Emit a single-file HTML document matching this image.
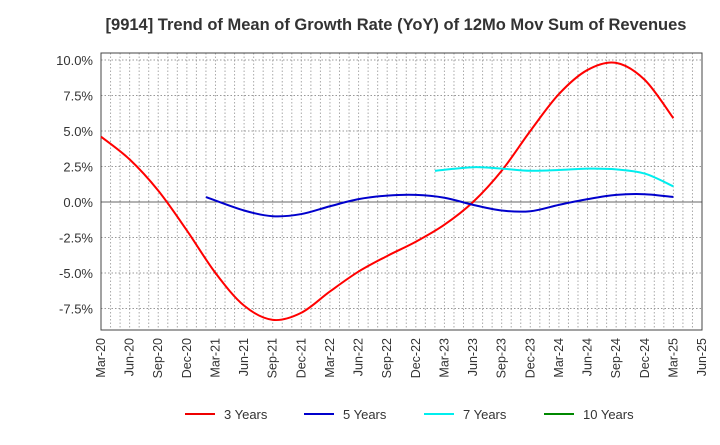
<!DOCTYPE html>
<html><head><meta charset="utf-8"><style>
body{margin:0;background:#fff;font-family:"Liberation Sans",sans-serif}
</style></head><body>
<svg id="c" width="720" height="440" xmlns="http://www.w3.org/2000/svg">
<text x="396" y="30" text-anchor="middle" font-size="16.5" font-weight="bold" fill="#333">[9914]  Trend of Mean of Growth Rate (YoY) of 12Mo Mov Sum of Revenues</text>
<g id="grid"></g><g id="axes"></g><g id="series"></g><g id="legend"></g>
</svg>
<script>
const xLabels=["Mar-20","Jun-20","Sep-20","Dec-20","Mar-21","Jun-21","Sep-21","Dec-21","Mar-22","Jun-22","Sep-22","Dec-22","Mar-23","Jun-23","Sep-23","Dec-23","Mar-24","Jun-24","Sep-24","Dec-24","Mar-25","Jun-25"];
const yTicks=[10,7.5,5,2.5,0,-2.5,-5,-7.5];
const m3=[0,3,6,9,12,15,18,21,24,27,30,33,36,39,42,45,48,51,54,57,60];
const v3=[4.6,3.0,0.8,-2.0,-5.0,-7.3,-8.3,-7.8,-6.3,-4.9,-3.8,-2.8,-1.6,0.0,2.2,5.0,7.6,9.3,9.8,8.6,5.9];
const m5=[11,15,18,21,24,27,30,33,36,39,42,45,48,51,54,57,60];
const v5=[0.35,-0.6,-1.0,-0.85,-0.3,0.2,0.45,0.5,0.3,-0.2,-0.6,-0.65,-0.2,0.2,0.5,0.55,0.35];
const m7=[35,39,42,45,48,51,54,57,60];
const v7=[2.2,2.45,2.35,2.2,2.25,2.35,2.3,2.0,1.1];
const L=101,R=702,T=53,B=330;
const X=m=>L+m*(R-L)/63;
const Y=v=>202-v*(142/10);
const NS="http://www.w3.org/2000/svg";
function mk(tag,attrs,parent,text){const e=document.createElementNS(NS,tag);for(const k in attrs)e.setAttribute(k,attrs[k]);if(text!==undefined)e.textContent=text;parent.appendChild(e);return e;}
const g=document.getElementById('grid'),a=document.getElementById('axes'),s=document.getElementById('series'),lg=document.getElementById('legend');
for(let m=1;m<63;m++){const l=mk('line',{x1:X(m),x2:X(m),y1:T,y2:B,stroke:'#aaa','stroke-dasharray':'1.5,2','stroke-width':1},g);

}
yTicks.forEach(v=>{const l=mk('line',{x1:L,x2:R,y1:Y(v),y2:Y(v),stroke:v===0?'#666':'#999','stroke-dasharray':v===0?'none':'1.5,2','stroke-width':1},g);


const t=mk('text',{x:L-8,y:Y(v)+5,'text-anchor':'end','font-size':13,fill:'#333'},a,v.toFixed(1)+'%');

});
const fr=mk('rect',{x:L,y:T,width:R-L,height:B-T,fill:'none',stroke:'#444','stroke-width':1},a);


xLabels.forEach((lab,i)=>{const x=X(i*3);const t=mk('text',{transform:`translate(${x+4},${B+8}) rotate(-90)`,'text-anchor':'end','font-size':12.5,fill:'#333'},a,lab);

});
function path(ms,vs){const p=ms.map((m,i)=>[X(m),Y(vs[i])]);let d=`M${p[0][0]},${p[0][1]}`;
for(let i=0;i<p.length-1;i++){const p0=p[i-1]||p[i],p1=p[i],p2=p[i+1],p3=p[i+2]||p2;
d+=` C${p1[0]+(p2[0]-p0[0])/6},${p1[1]+(p2[1]-p0[1])/6} ${p2[0]-(p3[0]-p1[0])/6},${p2[1]-(p3[1]-p1[1])/6} ${p2[0]},${p2[1]}`;}return d;}
[[m3,v3,'#f00','series-3-years'],[m5,v5,'#00c','series-5-years'],[m7,v7,'#0ee','series-7-years']].forEach(([m,v,c,n])=>{
const p=mk('path',{d:path(m,v),fill:'none',stroke:c,'stroke-width':2},s);

});
[['3 Years','#e00',185],['5 Years','#00c',304],['7 Years','#0ee',424],['10 Years','#080',544]].forEach(([t,c,x])=>{
const e=mk('g',{},lg);


mk('line',{x1:x,x2:x+30,y1:414,y2:414,stroke:c,'stroke-width':2},e);
mk('text',{x:x+39,y:419,'font-size':13,fill:'#333'},e,t);});
</script>
</body></html>
